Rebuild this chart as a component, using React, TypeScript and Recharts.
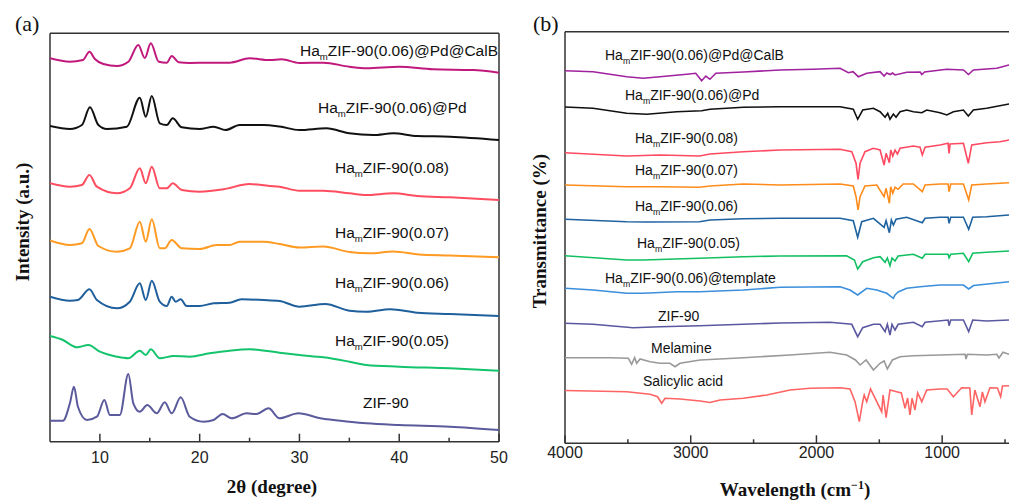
import React from "react";
import { LineChart, Line, XAxis, YAxis, ReferenceLine } from "recharts";

// (a) XRD: 2θ (degree) vs stacked intensity (a.u.)
const xrdPdCalB: [number, number][] = [
  [5, 383.4], [7, 380], [8.3, 381.7], [8.95, 390], [9.5, 382.7], [10.35, 377.7], [11.7, 375.7],
  [12.85, 380], [13.85, 396.7], [14.5, 383.7], [15.1, 398.4], [15.9, 380], [16.7, 379], [17.2, 385.7],
  [17.9, 379.4], [19, 378.7], [21, 379], [23, 379], [25, 383.4], [27, 381.7], [28.2, 382.4],
  [30, 378.7], [32.4, 379], [35, 375], [36.7, 373.4], [40, 375], [43.4, 372.4], [47.4, 371.7], [50, 369],
];
const xrdPd: [number, number][] = [
  [5, 315.7], [7, 312.7], [8.2, 316.7], [9.0, 334.4], [9.85, 316.7], [10.7, 312.7], [12.7, 315],
  [14.0, 344], [14.6, 325], [15.2, 345.7], [16.0, 318.4], [16.7, 316.7], [17.3, 323.4], [18.2, 314.4],
  [20, 312.7], [21.4, 315], [22.6, 311.7], [24, 316.7], [26.4, 316.7], [28, 315.2], [30, 311.7],
  [32.7, 313.4], [35, 308.4], [37.4, 306.7], [39.4, 308.4], [41.8, 305.7], [45.1, 305], [50, 301.7],
];
const xrd008: [number, number][] = [
  [5, 258.4], [7, 255], [8.2, 256.7], [8.95, 266.7], [9.7, 255], [11.7, 248.4], [13, 253.4],
  [14.0, 273.4], [14.6, 258.4], [15.2, 275], [16, 253.4], [16.7, 253.4], [17.3, 258.4], [18.2, 251.7],
  [20, 250], [22.4, 252.4], [25, 257.7], [27, 255.7], [28, 255], [30, 251], [32.4, 251],
  [35, 248.4], [36.7, 246.7], [39.4, 248.4], [41.8, 245.7], [45.1, 244.4], [50, 241.7],
];
const xrd007: [number, number][] = [
  [5, 201.2], [7, 196.7], [8.2, 198.4], [8.95, 212.7], [9.85, 195.7], [11.7, 190], [13, 193.4],
  [14.0, 220], [14.6, 200], [15.2, 222.4], [16, 193.4], [16.5, 193.4], [17.2, 201.7], [18.2, 193.4],
  [20, 192.7], [21.7, 196.7], [23, 196.7], [24, 200], [26.4, 200], [28, 197.7], [30, 194.2],
  [32.4, 195.2], [35, 189.7], [37, 188.4], [39.4, 190.2], [42, 187.2], [45, 186.2], [50, 184.4],
];
const xrd006: [number, number][] = [
  [5, 145], [7, 141], [7.8, 141.7], [8.95, 152.4], [9.7, 141.7], [11.7, 133.4], [13, 140],
  [14.0, 158.4], [14.6, 141.7], [15.2, 161], [16, 140], [16.7, 135.7], [17.2, 145], [17.6, 140],
  [18.1, 142.4], [18.7, 135.7], [20, 135.7], [21.4, 138.4], [23, 139], [24.2, 142.4], [26.4, 141.7],
  [28, 140.7], [30, 135], [32.6, 137.7], [35, 131], [36.7, 130], [39.1, 132.4], [41.8, 129],
  [45.1, 127.7], [50, 125.7],
];
const xrd005: [number, number][] = [
  [5, 105.7], [6.3, 101.7], [7.7, 94.4], [8.85, 96.7], [10, 90], [11.7, 85], [12.85, 83.4],
  [14.0, 91], [14.6, 86.7], [15.1, 92.4], [16, 83.4], [17.4, 85.7], [19, 85], [21, 88.4], [23, 91],
  [25, 92.4], [28, 89], [30, 86.7], [32.4, 84.4], [35, 80], [36.7, 76.7], [40, 75], [45.1, 73.4], [50, 71],
];
const xrdZif90: [number, number][] = [
  [5, 21], [6.3, 21], [7, 38.7], [7.4, 55], [7.8, 35], [8.7, 21.7], [9.7, 25], [10.45, 41.7],
  [11, 26.7], [12, 26.7], [12.85, 67.7], [13.35, 38.4], [14, 30], [14.75, 36.7], [15.7, 28.4],
  [16.5, 39.4], [17.2, 28.4], [18.1, 44.4], [19, 25], [20.4, 20], [21.4, 21.7], [22.3, 27.7],
  [23.2, 23.4], [24.7, 28.4], [25.7, 27.7], [26.9, 33.4], [28, 23.4], [29.9, 28.4], [32.1, 23.4],
  [35, 20], [36.7, 18.4], [40, 16.7], [45.1, 15], [50, 11.7],
];
const xrdTicks = [10, 15, 20, 25, 30, 35, 40, 45, 50];
const xrdTickLabels = [10, 20, 30, 40, 50];

// (b) FTIR: wavenumber (cm-1) vs stacked transmittance
const irPdCalB: [number, number][] = [
  [4000, 372.6], [3777, 371.6], [3509, 366.6], [3378, 365], [3244, 366.6], [3032, 369], [2960, 370],
  [2913, 362.6], [2880, 367.3], [2847, 364], [2800, 370], [2582, 371.3], [2290, 373.3], [2027, 374],
  [1812, 375], [1746, 370.6], [1709, 371.6], [1667, 366.6], [1600, 370], [1494, 371.6], [1462, 367.3],
  [1440, 370.3], [1414, 368.8], [1395, 370.3], [1375, 368.3], [1282, 371], [1175, 371.3], [1162, 368.8],
  [1140, 371.3], [963, 374], [830, 373.3], [791, 368.8], [752, 373.3], [566, 375], [468, 378.3],
];
const irPd: [number, number][] = [
  [4000, 336.3], [3777, 335], [3509, 330], [3350, 329], [3111, 331.6], [2913, 332.6], [2847, 334],
  [2582, 336], [2290, 336.6], [1812, 336.6], [1707, 334], [1672, 324], [1632, 333.3], [1547, 335],
  [1494, 331.6], [1454, 326], [1433, 330], [1415, 324], [1388, 329.3], [1367, 326], [1335, 331.6],
  [1282, 333.3], [1229, 331.6], [1162, 330.6], [1123, 333.3], [1017, 330.6], [963, 328.3], [911, 331.6],
  [831, 333.3], [792, 327.3], [752, 333.3], [646, 335], [468, 339.3],
];
const ir008: [number, number][] = [
  [4000, 290.6], [3509, 287.3], [3244, 288.3], [2930, 287.3], [2847, 289.3], [2582, 291.6], [2290, 293.3],
  [1812, 294], [1719, 291.6], [1685, 280], [1669, 264], [1653, 280], [1614, 291.6], [1547, 295],
  [1494, 293.3], [1462, 278.3], [1446, 290], [1420, 280.6], [1409, 293.3], [1393, 287.3], [1375, 293.3],
  [1356, 289.3], [1335, 295], [1229, 297.3], [1176, 296], [1158, 288.3], [1136, 296], [1017, 298.3],
  [953, 300], [945, 290], [937, 299.3], [831, 300], [792, 280], [765, 298.3], [646, 300.6], [540, 301.6],
  [468, 303.3],
];
const ir007: [number, number][] = [
  [4000, 258.3], [3509, 256.6], [3244, 256.6], [2930, 256], [2847, 257.3], [2582, 259.3], [2290, 258.3],
  [1812, 259.3], [1707, 257.3], [1685, 246.6], [1669, 233.3], [1653, 246.6], [1614, 257.3], [1520, 258.3],
  [1462, 246.6], [1446, 255], [1420, 240], [1409, 256.6], [1393, 250], [1375, 256], [1350, 254],
  [1310, 259.3], [1229, 259.3], [1158, 251.6], [1136, 258.3], [1017, 259.3], [953, 259.3], [945, 251.6],
  [932, 259.3], [831, 259.3], [789, 243.3], [765, 258.3], [646, 259.3], [468, 260.6],
];
const ir006: [number, number][] = [
  [4000, 224], [3509, 221.6], [3350, 221.3], [2930, 221.6], [2847, 223.3], [2582, 224.6], [2290, 225],
  [1812, 225], [1707, 222.6], [1672, 206], [1640, 221.6], [1547, 225], [1462, 216], [1446, 222.6],
  [1420, 210.6], [1404, 223.3], [1388, 218.3], [1367, 224], [1282, 226], [1158, 220.6], [1136, 225],
  [1017, 226], [953, 226], [945, 220], [932, 226], [831, 226], [789, 214], [757, 226], [646, 226.6],
  [468, 228.3],
];
const ir005: [number, number][] = [
  [4000, 187.6], [3509, 183.3], [3378, 183.3], [2930, 185], [2582, 186.6], [2290, 187.3], [1760, 187.6],
  [1698, 183.3], [1672, 174.3], [1632, 181.6], [1547, 185.6], [1494, 186.6], [1454, 181], [1436, 185.3],
  [1415, 177.6], [1399, 185.3], [1375, 182.3], [1350, 187.3], [1229, 189], [1158, 185], [1136, 189],
  [953, 189], [945, 185.6], [932, 189], [831, 190], [789, 181.6], [757, 190], [646, 191], [468, 192.3],
];
const irTemplate: [number, number][] = [
  [4000, 155], [3777, 153.3], [3509, 150], [3378, 150], [3111, 151.6], [2930, 151.6], [2582, 153.3],
  [2290, 156], [1812, 156.6], [1733, 153.3], [1672, 148.3], [1600, 155], [1520, 153.3], [1441, 150],
  [1388, 145], [1375, 148.3], [1350, 151.3], [1282, 155], [1176, 156.6], [1017, 158.3], [831, 158.3],
  [789, 154.3], [750, 157.8], [468, 161.6],
];
const irZif90: [number, number][] = [
  [4000, 120], [3777, 119], [3459, 115.6], [3244, 116.6], [2930, 117.6], [2582, 119], [2290, 120.3],
  [1892, 121], [1719, 119], [1672, 106.6], [1632, 115.6], [1547, 119], [1494, 119], [1454, 111.6],
  [1436, 119], [1415, 108.3], [1399, 119], [1375, 113.3], [1350, 119], [1229, 121], [1158, 116.6],
  [1136, 121], [953, 123.3], [945, 117.6], [932, 123.3], [831, 123.3], [789, 111.6], [757, 123.3],
  [646, 122.3], [468, 123.3],
];
const irMelamine: [number, number][] = [
  [4000, 85.6], [3643, 85.6], [3496, 85], [3470, 79], [3446, 85.6], [3430, 80], [3403, 84.3],
  [3323, 81.6], [3244, 80], [3165, 80], [3125, 76.6], [3085, 80], [2926, 83.3], [2582, 85.6],
  [2210, 88.3], [1892, 91], [1759, 88.3], [1690, 83.3], [1653, 78.3], [1605, 83.3], [1547, 73.3],
  [1494, 80], [1462, 82.3], [1436, 74.3], [1396, 83.3], [1335, 86.6], [1229, 87.6], [1017, 88.3],
  [818, 89], [810, 84.3], [800, 89], [646, 88.3], [566, 89], [548, 85.3], [516, 91], [468, 89],
];
const irSalicylic: [number, number][] = [
  [4000, 52.8], [3509, 51.6], [3323, 49], [3264, 46.6], [3231, 40], [3204, 45], [3085, 44.3],
  [2926, 42.3], [2847, 40.8], [2767, 43.3], [2582, 45], [2395, 48.3], [2210, 53.3], [2051, 55],
  [1812, 55.6], [1733, 54.3], [1693, 41.6], [1659, 21.6], [1632, 41.6], [1620, 48.3], [1600, 41.6],
  [1570, 54.3], [1481, 31.6], [1470, 48.3], [1446, 25.6], [1415, 53.3], [1362, 51.6], [1325, 50.3],
  [1295, 35], [1275, 45.3], [1256, 28.3], [1240, 45], [1216, 33.3], [1195, 50.3], [1162, 41.6],
  [1123, 53.3], [1017, 54.3], [960, 54.3], [911, 46.6], [845, 55.6], [780, 55.3], [765, 28.3],
  [740, 53.3], [699, 36.6], [680, 51.3], [660, 41.6], [620, 55.6], [560, 55.3], [535, 46.6],
  [520, 57.3], [468, 57.6],
];
const irTicks = [4000, 3500, 3000, 2500, 2000, 1500, 1000, 500];
const irTickLabels = [4000, 3000, 2000, 1000];

const xrdSeries = [
  { name: "HamZIF-90(0.06)@Pd@CalB", data: xrdPdCalB, color: "#c0187c" },
  { name: "HamZIF-90(0.06)@Pd", data: xrdPd, color: "#111111" },
  { name: "HamZIF-90(0.08)", data: xrd008, color: "#ff4d60" },
  { name: "HamZIF-90(0.07)", data: xrd007, color: "#ff9a22" },
  { name: "HamZIF-90(0.06)", data: xrd006, color: "#1f5f9c" },
  { name: "HamZIF-90(0.05)", data: xrd005, color: "#14c46c" },
  { name: "ZIF-90", data: xrdZif90, color: "#5a5a9c" },
];
const xrdLabelAt = [[300, 55.5], [318, 112.5], [335, 172.5], [335, 237.5], [335, 287.5], [335, 345.5], [363, 407.5]];

const irSeries = [
  { name: "HamZIF-90(0.06)@Pd@CalB", data: irPdCalB, color: "#a0229e" },
  { name: "HamZIF-90(0.06)@Pd", data: irPd, color: "#111111" },
  { name: "HamZIF-90(0.08)", data: ir008, color: "#ff4a62" },
  { name: "HamZIF-90(0.07)", data: ir007, color: "#ff8c1a" },
  { name: "HamZIF-90(0.06)", data: ir006, color: "#1f62a0" },
  { name: "HamZIF-90(0.05)", data: ir005, color: "#12c062" },
  { name: "HamZIF-90(0.06)@template", data: irTemplate, color: "#3b8fdc" },
  { name: "ZIF-90", data: irZif90, color: "#5a58a0" },
  { name: "Melamine", data: irMelamine, color: "#999999" },
  { name: "Salicylic acid", data: irSalicylic, color: "#ff6464" },
];
const irLabelAt = [[605, 60], [625, 100], [635, 143], [635, 175], [635, 211], [637, 248], [605, 283], [658, 321], [651, 353], [643, 386]];

const SANS = "'Liberation Sans', Arial, sans-serif";
const SERIF = "'Liberation Serif', 'Times New Roman', serif";
const AXIS = "#333333";

const rows = (pts: [number, number][]) => pts.map(([x, y]) => ({ x, y }));

function makeTick(labeled: number[], dy: number) {
  return (props: any) => {
    const { x, y, payload } = props;
    const major = labeled.includes(payload.value);
    return (
      <g>
        <line x1={x} x2={x} y1={y} y2={y - (major ? 8 : 4)} stroke={AXIS} strokeWidth={1.5} />
        {major && (
          <text x={x} y={y + dy} textAnchor="middle" fontSize={16} fill="#222" fontFamily={SANS}>
            {payload.value}
          </text>
        )}
      </g>
    );
  };
}

function SeriesLabel({ name, x, y, size }: { name: string; x: number; y: number; size: number }) {
  if (!name.startsWith("Ham")) {
    return (
      <text x={x} y={y} fontSize={size} fontFamily={SANS} fill="#111">
        {name}
      </text>
    );
  }
  const sub = Math.round(size * 0.28);
  return (
    <text x={x} y={y} fontSize={size} fontFamily={SANS} fill="#111">
      Ha
      <tspan fontSize={size * 0.62} dy={sub}>m</tspan>
      <tspan dy={-sub}>{name.slice(3)}</tspan>
    </text>
  );
}

export default function App() {
  return (
    <div style={{ position: "absolute", left: 0, top: 0, width: 1009, height: 500, overflow: "hidden", background: "#fff" }}>
      <div style={{ position: "absolute", left: 0, top: 0 }}>
        <LineChart width={520} height={500} margin={{ top: 33.3, right: 21, bottom: 28.3, left: 50 }}>
          <XAxis
            dataKey="x"
            type="number"
            domain={[5, 50]}
            ticks={xrdTicks}
            interval={0}
            allowDataOverflow
            height={30}
            tickSize={0}
            tickMargin={0}
            tickLine={false}
            axisLine={{ stroke: AXIS, strokeWidth: 1.5 }}
            tick={makeTick(xrdTickLabels, 21.5)}
          />
          <YAxis type="number" domain={[0, 408.4]} width={0} tick={false} tickLine={false} axisLine={false} />
          <ReferenceLine y={408.4} stroke={AXIS} strokeWidth={1.5} />
          <ReferenceLine x={5} stroke={AXIS} strokeWidth={1.5} />
          <ReferenceLine x={50} stroke={AXIS} strokeWidth={1.5} />
          {xrdSeries.map((s) => (
            <Line
              key={s.name}
              data={rows(s.data)}
              dataKey="y"
              type="monotone"
              dot={false}
              stroke={s.color}
              strokeWidth={2}
              isAnimationActive={false}
            />
          ))}
        </LineChart>
      </div>
      <div style={{ position: "absolute", left: 510, top: 0 }}>
        <LineChart width={520} height={500} margin={{ top: 31.7, right: 12.4, bottom: 26.7, left: 55 }}>
          <XAxis
            dataKey="x"
            type="number"
            domain={[400, 4000]}
            reversed
            ticks={irTicks}
            interval={0}
            allowDataOverflow
            height={30}
            tickSize={0}
            tickMargin={0}
            tickLine={false}
            axisLine={{ stroke: AXIS, strokeWidth: 1.5 }}
            tick={makeTick(irTickLabels, 15)}
          />
          <YAxis type="number" domain={[0, 411.6]} width={0} tick={false} tickLine={false} axisLine={false} />
          <ReferenceLine y={411.6} stroke={AXIS} strokeWidth={1.5} />
          <ReferenceLine x={4000} stroke={AXIS} strokeWidth={1.5} />
          {irSeries.map((s) => (
            <Line
              key={s.name}
              data={rows(s.data)}
              dataKey="y"
              type="linear"
              dot={false}
              stroke={s.color}
              strokeWidth={1.6}
              isAnimationActive={false}
            />
          ))}
        </LineChart>
      </div>
      <svg width={1009} height={500} style={{ position: "absolute", left: 0, top: 0, pointerEvents: "none" }}>
        {xrdSeries.map((s, i) => (
          <SeriesLabel key={s.name} name={s.name} x={xrdLabelAt[i][0]} y={xrdLabelAt[i][1]} size={15.5} />
        ))}
        {irSeries.map((s, i) => (
          <SeriesLabel key={s.name} name={s.name} x={irLabelAt[i][0]} y={irLabelAt[i][1]} size={14} />
        ))}
        <text x={15} y={30.5} fontSize={22} fontFamily={SERIF} fill="#111">(a)</text>
        <text x={533} y={30.5} fontSize={22} fontFamily={SERIF} fill="#111">(b)</text>
        <text x={272} y={493} textAnchor="middle" fontSize={19} fontWeight="bold" fontFamily={SERIF} fill="#111">
          2θ (degree)
        </text>
        <text x={795} y={496} textAnchor="middle" fontSize={19} fontWeight="bold" fontFamily={SERIF} fill="#111">
          Wavelength (cm<tspan fontSize={12} dy={-7}>−1</tspan><tspan dy={7}>)</tspan>
        </text>
        <text x={29} y={222} transform="rotate(-90 29 222)" textAnchor="middle" fontSize={19} fontWeight="bold" fontFamily={SERIF} fill="#111">
          Intensity (a.u.)
        </text>
        <text x={546} y={231} transform="rotate(-90 546 231)" textAnchor="middle" fontSize={19} fontWeight="bold" fontFamily={SERIF} fill="#111">
          Transmittance (%)
        </text>
      </svg>
    </div>
  );
}
